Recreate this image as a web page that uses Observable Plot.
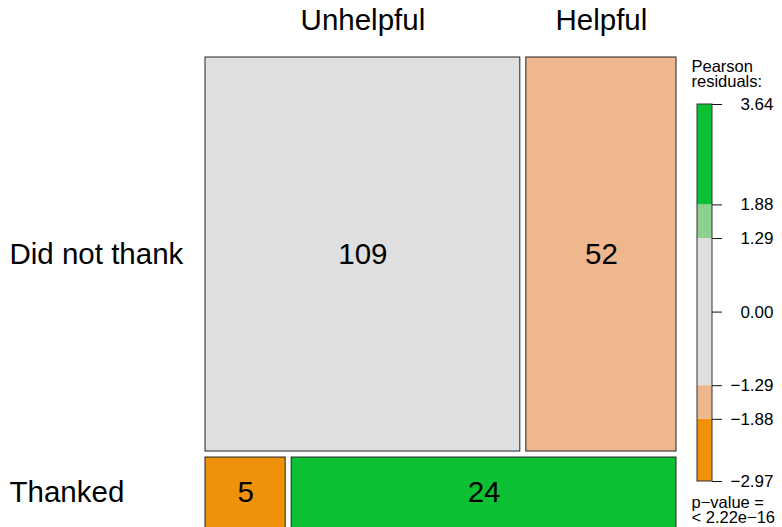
<!DOCTYPE html>
<html>
<head>
<meta charset="utf-8">
<script src="https://cdn.jsdelivr.net/npm/d3@7"></script>
<script src="https://cdn.jsdelivr.net/npm/@observablehq/plot@0.6"></script>
<style>
  html, body { margin: 0; padding: 0; background: #fff; }
  #chart { position: relative; width: 782px; height: 527px; overflow: hidden; font-family: "Liberation Sans", Arial, sans-serif; }
  #chart svg { position: absolute; left: 0; top: 0; }
</style>
</head>
<body>
<div id="chart"></div>
<script>
// ---- data ----
const rowLabels = ["Did not thank", "Thanked"];
const colLabels = ["Unhelpful", "Helpful"];
const didNotThank = [109, 52];
const thanked = [5, 24];
const legendBreaks = [-2.97, -1.88, -1.29, 1.29, 1.88, 3.64];
const legendTicks = [-2.97, -1.88, -1.29, 0.00, 1.29, 1.88, 3.64];
const pValueText = ["p\u2212value =", "< 2.22e\u221216"];
const legendTitle = ["Pearson", "residuals:"];

// ---- colours for residual shading ----
const shadeDomain = [-1.88, -1.29, 1.29, 1.88];
const shadeColors = ["#EF910B", "#EFB78E", "#DFDFDF", "#8CD190", "#0CC033"];
const colorScale = {type: "threshold", domain: shadeDomain, range: shadeColors};

// ---- mosaic layout computed from the counts ----
const table = [didNotThank, thanked];
const N = d3.sum(table.flat());
const rowTot = table.map(r => d3.sum(r));
const colTot = colLabels.map((_, j) => d3.sum(table, r => r[j]));
const gap = 6 / 471;
const cells = [];
const rowInfo = [];
let y0 = 0;
table.forEach((r, i) => {
  const h = (1 - gap) * rowTot[i] / N;
  let x0 = 0;
  r.forEach((n, j) => {
    const w = (1 - gap) * n / rowTot[i];
    const e = rowTot[i] * colTot[j] / N;
    cells.push({row: rowLabels[i], col: colLabels[j], n, res: (n - e) / Math.sqrt(e),
      x1: x0, x2: x0 + w, y1: y0, y2: y0 + h});
    x0 += w + gap;
  });
  rowInfo.push({label: rowLabels[i], y: y0 + h / 2});
  y0 += h + gap;
});
const colInfo = cells.filter(c => c.row === rowLabels[0]).map(c => ({label: c.col, x: (c.x1 + c.x2) / 2}));

const font = "'Liberation Sans', Arial, sans-serif";

const main = Plot.plot({
  width: 782, height: 527,
  margin: 0,
  x: {domain: [0, 1], range: [205, 676], axis: null},
  y: {domain: [0, 1], range: [57, 528], axis: null},
  color: colorScale,
  style: {fontFamily: font, background: "transparent", overflow: "visible"},
  marks: [
    Plot.rect(cells, {x1: "x1", x2: "x2", y1: "y1", y2: "y2", fill: "res", stroke: "#222", strokeWidth: 1}),
    Plot.text(cells, {x: d => (d.x1 + d.x2) / 2, y: d => (d.y1 + d.y2) / 2, text: d => String(d.n), fontSize: 29.5, fill: "black"}),
    Plot.text(rowInfo, {y: "y", text: "label", frameAnchor: "left", dx: 9, textAnchor: "start", fontSize: 29.5, fill: "black"}),
    Plot.text(colInfo, {x: "x", text: "label", frameAnchor: "top", lineAnchor: "middle", dy: 20, fontSize: 29.5, fill: "black"})
  ]
});

const bands = legendBreaks.slice(0, -1).map((b, i) => ({y1: b, y2: legendBreaks[i + 1], mid: (b + legendBreaks[i + 1]) / 2}));
const fmt = d3.format(".2f");

const legend = Plot.plot({
  width: 782, height: 527,
  margin: 0,
  x: {domain: [0, 1], range: [697, 712], axis: null},
  y: {domain: [legendBreaks[0], legendBreaks[legendBreaks.length - 1]], range: [481, 104], axis: null},
  color: colorScale,
  style: {fontFamily: font, background: "transparent", overflow: "visible"},
  marks: [
    Plot.rect(bands, {x1: 0, x2: 1, y1: "y1", y2: "y2", fill: "mid"}),
    Plot.rect([0], {x1: 0, x2: 1, y1: legendBreaks[0], y2: legendBreaks[legendBreaks.length - 1], fill: "none", stroke: "#333", strokeWidth: 1}),
    Plot.ruleY(legendTicks, {x1: 1, x2: 1 + 10 / 15, stroke: "#111", strokeWidth: 1}),
    Plot.text(legendTicks, {x: 1, y: d => d, dx: 61, text: d => fmt(d), textAnchor: "end", fontSize: 17, fill: "black"}),
    Plot.text([legendTitle.join("\n")], {x: 0, y: legendBreaks[legendBreaks.length - 1], dx: -6, dy: -18, textAnchor: "start", lineAnchor: "bottom", lineHeight: 0.9, fontSize: 16.5, fill: "black", text: d => d}),
    Plot.text([pValueText.join("\n")], {x: 0, y: legendBreaks[0], dx: -6, dy: 16, textAnchor: "start", lineAnchor: "top", lineHeight: 0.9, fontSize: 16.5, fill: "black", text: d => d})
  ]
});

document.getElementById("chart").append(main, legend);
</script>
</body>
</html>
